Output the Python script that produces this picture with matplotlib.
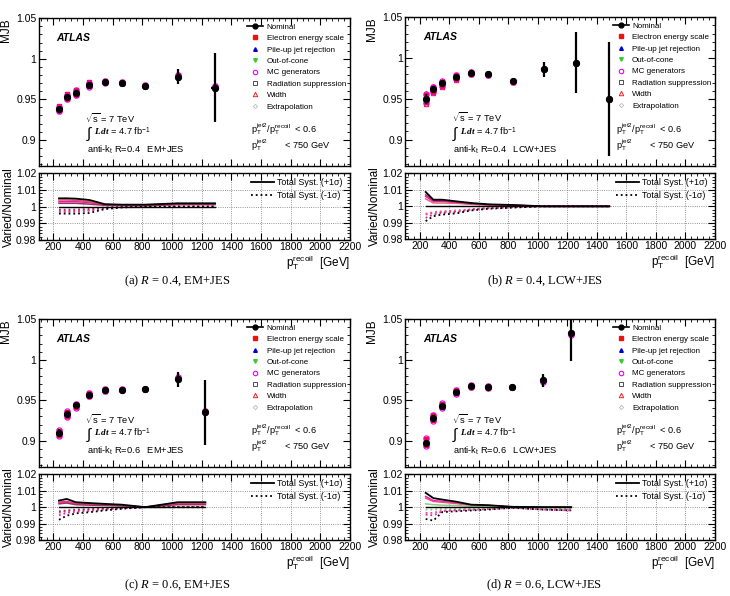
import matplotlib
matplotlib.use("Agg")
import matplotlib.pyplot as plt
import numpy as np
from matplotlib.lines import Line2D
from matplotlib.ticker import MultipleLocator, FuncFormatter

plt.rcParams["font.family"] = ["Liberation Sans", "DejaVu Sans"]
plt.rcParams["mathtext.fontset"] = "custom"
plt.rcParams["mathtext.rm"] = "Liberation Sans"
plt.rcParams["mathtext.it"] = "Liberation Serif:italic"
plt.rcParams["mathtext.bf"] = "Liberation Serif:italic:bold"

# ---- (a) R=0.4 EM+JES ----
A_PT = [238, 290, 351, 443, 546, 661, 820, 1038, 1290]
A_MJB = [0.938, 0.953, 0.958, 0.968, 0.9715, 0.970, 0.9665, 0.978, 0.9645]
A_ERR = [0.004, 0.003, 0.003, 0.003, 0.002, 0.002, 0.002, 0.009, 0.043]
A_XERR = [8, 8, 8, 8, 8, 8, 8, 10, 30]
A_UP = [1.0050, 1.0050, 1.0048, 1.0040, 1.0015, 1.0012, 1.0012, 1.0020, 1.0020]
A_DN = [0.9958, 0.9958, 0.9958, 0.9962, 0.9985, 0.9995, 1.0, 1.0, 1.0]
A_COMP_UP = [
    [1.0030, 1.0030, 1.0030, 1.0025, 1.0010, 1.0010, 1.0008, 1.0015, 1.0015],
    [1.0040, 1.0040, 1.0038, 1.0030, 1.0010, 1.0010, 1.0010, 1.0018, 1.0018],
    [1.0020, 1.0020, 1.0020, 1.0015, 1.0008, 1.0006, 1.0005, 1.0012, 1.0012],
]
A_COMP_DN = [
    [0.9968, 0.9968, 0.9970, 0.9975, 0.9990, 0.9998, 1.0, 1.0, 1.0],
    [0.9975, 0.9975, 0.9976, 0.9980, 0.9993, 0.9998, 1.0, 1.0, 1.0],
    [0.9982, 0.9982, 0.9983, 0.9986, 0.9995, 0.9999, 1.0, 1.0, 1.0],
]

# ---- (b) R=0.4 LCW+JES ----
B_PT = [240, 292, 353, 448, 549, 664, 831, 1039, 1260, 1484]
B_MJB = [0.950, 0.962, 0.969, 0.977, 0.982, 0.980, 0.9715, 0.986, 0.9945, 0.950]
B_ERR = [0.006, 0.004, 0.004, 0.003, 0.002, 0.002, 0.002, 0.009, 0.037, 0.070]
B_XERR = [8, 8, 8, 8, 8, 8, 8, 10, 15, 8]
B_UP = [1.0087, 1.0040, 1.0040, 1.0030, 1.0020, 1.0012, 1.0008, 1.0, 1.0, 1.0]
B_DN = [0.9910, 0.9940, 0.9950, 0.9957, 0.9975, 0.9985, 0.9992, 1.0, 1.0, 1.0]
B_COMP_UP = [
    [1.0060, 1.0030, 1.0030, 1.0022, 1.0015, 1.0010, 1.0006, 1.0, 1.0, 1.0],
    [1.0045, 1.0020, 1.0020, 1.0018, 1.0012, 1.0008, 1.0005, 1.0, 1.0, 1.0],
    [1.0070, 1.0035, 1.0033, 1.0025, 1.0016, 1.0010, 1.0006, 1.0, 1.0, 1.0],
]
B_COMP_DN = [
    [0.9950, 0.9960, 0.9965, 0.9970, 0.9980, 0.9988, 0.9995, 1.0, 1.0, 1.0],
    [0.9955, 0.9965, 0.9970, 0.9975, 0.9982, 0.9990, 0.9996, 1.0, 1.0, 1.0],
    [0.9930, 0.9950, 0.9960, 0.9965, 0.9980, 0.9988, 0.9994, 1.0, 1.0, 1.0],
]

# ---- (c) R=0.6 EM+JES ----
C_PT = [238, 290, 351, 443, 546, 661, 820, 1038, 1225]
C_MJB = [0.910, 0.933, 0.9437, 0.957, 0.9627, 0.963, 0.9636, 0.976, 0.935]
C_ERR = [0.005, 0.003, 0.003, 0.003, 0.002, 0.002, 0.002, 0.009, 0.040]
C_XERR = [8, 8, 8, 8, 8, 8, 8, 10, 8]
C_UP = [1.0040, 1.0050, 1.0030, 1.0025, 1.0020, 1.0015, 1.0000, 1.0030, 1.0030]
C_DN = [0.9923, 0.9948, 0.9962, 0.9969, 0.9980, 0.9990, 1.0, 1.0, 1.0]
C_COMP_UP = [
    [1.0030, 1.0035, 1.0022, 1.0020, 1.0015, 1.0010, 1.0, 1.0025, 1.0025],
    [1.0025, 1.0030, 1.0020, 1.0018, 1.0013, 1.0010, 1.0, 1.0020, 1.0020],
    [1.0020, 1.0025, 1.0015, 1.0012, 1.0010, 1.0008, 1.0, 1.0015, 1.0015],
]
C_COMP_DN = [
    [0.9950, 0.9965, 0.9972, 0.9977, 0.9985, 0.9992, 1.0, 1.0, 1.0],
    [0.9965, 0.9975, 0.9980, 0.9983, 0.9988, 0.9994, 1.0, 1.0, 1.0],
    [0.9975, 0.9980, 0.9985, 0.9988, 0.9992, 0.9996, 1.0, 1.0, 1.0],
]

# ---- (d) R=0.6 LCW+JES ----
D_PT = [240, 292, 353, 448, 549, 664, 827, 1037, 1226]
D_MJB = [0.8975, 0.9287, 0.943, 0.960, 0.9676, 0.9664, 0.9664, 0.9746, 1.0332]
D_ERR = [0.004, 0.003, 0.003, 0.003, 0.002, 0.002, 0.002, 0.008, 0.035]
D_XERR = [8, 8, 8, 8, 8, 8, 8, 10, 8]
D_UP = [1.0087, 1.0055, 1.0046, 1.0033, 1.0015, 1.0012, 1.0002, 1.0, 1.0]
D_DN = [0.9928, 0.9918, 0.9970, 0.9975, 0.9980, 0.9985, 0.9996, 0.9985, 0.9980]
D_COMP_UP = [
    [1.0065, 1.0040, 1.0035, 1.0025, 1.0012, 1.0010, 1.0002, 1.0, 1.0],
    [1.0055, 1.0035, 1.0030, 1.0022, 1.0010, 1.0008, 1.0001, 1.0, 1.0],
    [1.0020, 1.0015, 1.0012, 1.0010, 1.0005, 1.0003, 1.0, 1.0, 1.0],
]
D_COMP_DN = [
    [0.9955, 0.9950, 0.9975, 0.9980, 0.9983, 0.9988, 0.9996, 0.9985, 0.9980],
    [0.9965, 0.9965, 0.9980, 0.9984, 0.9987, 0.9990, 0.9997, 0.9990, 0.9988],
    [0.9985, 0.9985, 0.9990, 0.9992, 0.9994, 0.9996, 0.9999, 0.9995, 0.9993],
]

LEGEND_LABELS = ["Nominal", "Electron energy scale", "Pile-up jet rejection", "Out-of-cone",
                 "MC generators", "Radiation suppression", "Width", "Extrapolation"]

W, H = 730, 596


def rect(left, right, top, bottom):
    return [left / W, 1 - bottom / H, (right - left) / W, (bottom - top) / H]


def style_axis(ax):
    ax.tick_params(which="both", direction="in", top=True, right=True, labelsize=7.5)
    ax.tick_params(axis="x", pad=1.5)
    ax.tick_params(axis="y", pad=1.5)
    ax.tick_params(which="major", length=5, width=0.8)
    ax.tick_params(which="minor", length=2.5, width=0.6)
    for sp in ax.spines.values():
        sp.set_linewidth(1.0)
    ax.set_xlim(100, 2200)
    ax.xaxis.set_major_locator(MultipleLocator(200))
    ax.xaxis.set_minor_locator(MultipleLocator(40))


def draw_panel(fig, main_px, ratio_px, pt, mjb, err, xerr, up, dn, comp_up, comp_dn,
               radius, calib, comp_colors):
    pt = np.asarray(pt)
    mjb = np.asarray(mjb)
    ax = fig.add_axes(rect(*main_px))
    rax = fig.add_axes(rect(*ratio_px))
    style_axis(ax)
    style_axis(rax)

    # varied points (mostly hidden behind nominal)
    ms = 3.2
    ax.plot(pt, mjb, "D", ms=2.2, mfc="none", mec="#bbbbbb", mew=0.6, ls="none")
    ax.plot(pt, mjb, "s", ms=ms, mfc="none", mec="#333333", mew=0.6, ls="none")
    ax.plot(pt, mjb, "v", ms=ms, color="#33cc33", ls="none")
    ax.plot(pt, mjb, "^", ms=ms, color="#0000cc", ls="none")
    for vals in (comp_up[2], comp_dn[2]):
        ax.plot(pt, mjb * np.asarray(vals), "^", ms=ms, mfc="none", mec="#ee2222", mew=0.7, ls="none")
    for vals in (comp_up[1], comp_dn[1]):
        ax.plot(pt, mjb * np.asarray(vals), "s", ms=ms, color="#ee1111", ls="none")
    for vals in (comp_up[0], comp_dn[0]):
        ax.plot(pt, mjb * np.asarray(vals), "o", ms=ms + 0.6, mfc="none", mec="#ee00ee", mew=0.8, ls="none")
    ax.errorbar(pt, mjb, yerr=err, xerr=xerr, fmt="o", color="black", ms=4.2,
                elinewidth=1.6, capsize=0, zorder=5)

    ax.set_ylim(0.868, 1.05)
    ax.yaxis.set_major_locator(MultipleLocator(0.05))
    ax.yaxis.set_minor_locator(MultipleLocator(0.01))
    ax.yaxis.set_major_formatter(FuncFormatter(lambda v, p: f"{v:g}"))
    ax.set_xticklabels([])
    ax.set_ylabel("MJB", loc="top", fontsize=8.5, labelpad=3)

    handles = [
        Line2D([], [], color="black", marker="o", ms=3.5, lw=1.2),
        Line2D([], [], color="#ee1111", marker="s", ms=2.6, ls="none"),
        Line2D([], [], color="#0000cc", marker="^", ms=2.6, ls="none"),
        Line2D([], [], color="#33cc33", marker="v", ms=2.6, ls="none"),
        Line2D([], [], mec="#ee00ee", mfc="none", marker="o", ms=3.2, mew=0.8, ls="none"),
        Line2D([], [], mec="#333333", mfc="none", marker="s", ms=3.0, mew=0.6, ls="none"),
        Line2D([], [], mec="#ee2222", mfc="none", marker="^", ms=3.2, mew=0.7, ls="none"),
        Line2D([], [], mec="#bbbbbb", mfc="none", marker="D", ms=2.2, mew=0.6, ls="none"),
    ]
    ax.legend(handles, LEGEND_LABELS, loc="upper left", bbox_to_anchor=(0.67, 0.968),
              frameon=False, fontsize=5.8, handlelength=2.0, handletextpad=0.4,
              labelspacing=0.47, borderaxespad=0, borderpad=0)

    ax.text(0.058, 0.866, "ATLAS", transform=ax.transAxes, fontsize=7.5,
            fontweight="bold", fontstyle="italic", va="center")
    ax.text(0.15, 0.324, r"$\sqrt{\mathrm{s}}$ = 7 TeV", transform=ax.transAxes,
            fontsize=6.7, va="center")
    ax.text(0.152, 0.215, r"$\int$", transform=ax.transAxes, fontsize=11, va="center")
    ax.text(0.178, 0.228, r"$\mathbf{L\,dt}$ = 4.7 fb$^{\mathrm{-1}}$",
            transform=ax.transAxes, fontsize=6.7, va="center")
    ax.text(0.155, 0.107, r"anti-k$_{\mathrm{t}}$ R=" + radius + "   " + calib,
            transform=ax.transAxes, fontsize=6.7, va="center")
    ax.text(0.682, 0.249, r"$\mathrm{p_T^{jet2}/p_T^{recoil}}$  < 0.6",
            transform=ax.transAxes, fontsize=6.6, va="center")
    ax.text(0.682, 0.14, r"$\mathrm{p_T^{jet2}}$       < 750 GeV",
            transform=ax.transAxes, fontsize=6.6, va="center")

    # ratio panel
    rax.set_ylim(0.98, 1.02)
    rax.yaxis.set_major_locator(MultipleLocator(0.01))
    rax.yaxis.set_minor_locator(MultipleLocator(0.002))
    rax.yaxis.set_major_formatter(FuncFormatter(lambda v, p: f"{v:g}"))
    rax.grid(True, which="major", ls=":", color="0.45", lw=0.6)
    for vals, col in zip(comp_up, comp_colors):
        rax.plot(pt, vals, "-", color=col, lw=1.1)
    for vals, col in zip(comp_dn, comp_colors):
        rax.plot(pt, vals, ":", color=col, lw=1.3)
    rax.plot(pt, np.ones_like(pt, dtype=float), "-", color="black", lw=1.0)
    l1, = rax.plot(pt, up, "-", color="black", lw=1.3)
    l2, = rax.plot(pt, dn, ":", color="black", lw=1.3)
    rax.legend([l1, l2], ["Total Syst. (+1\u03c3)", "Total Syst. (-1\u03c3)"],
               loc="upper right", bbox_to_anchor=(0.975, 0.93), frameon=False,
               fontsize=6.4, handlelength=2.6, handletextpad=0.3, labelspacing=0.45,
               borderaxespad=0, borderpad=0)
    rax.set_ylabel("Varied/Nominal", fontsize=8.5, labelpad=1)
    rax.set_xlabel(r"$\mathrm{p_T^{recoil}}$  [GeV]", loc="right", fontsize=8.5, labelpad=1)
    return ax, rax


fig = plt.figure(figsize=(7.3, 5.96), dpi=100)

PINKS = ["#e020b0", "#f04a6a", "#a0306a"]
PINKS_B = ["#e020b0", "#f06080", "#c03080"]
PINKS_D = ["#e020b0", "#f04a8a", "#88cc88"]

draw_panel(fig, (38.5, 350, 18.3, 165.7), (38.5, 350, 173.3, 240),
           A_PT, A_MJB, A_ERR, A_XERR, A_UP, A_DN, A_COMP_UP, A_COMP_DN,
           "0.4", "EM+JES", PINKS)
draw_panel(fig, (405, 715, 17.3, 165.7), (405, 715, 173.3, 239.3),
           B_PT, B_MJB, B_ERR, B_XERR, B_UP, B_DN, B_COMP_UP, B_COMP_DN,
           "0.4", "LCW+JES", PINKS_B)
draw_panel(fig, (38.5, 350, 319.3, 466.7), (38.5, 350, 474.3, 540),
           C_PT, C_MJB, C_ERR, C_XERR, C_UP, C_DN, C_COMP_UP, C_COMP_DN,
           "0.6", "EM+JES", PINKS)
draw_panel(fig, (405, 715, 319.3, 466.7), (405, 715, 474.3, 540),
           D_PT, D_MJB, D_ERR, D_XERR, D_UP, D_DN, D_COMP_UP, D_COMP_DN,
           "0.6", "LCW+JES", PINKS_D)

captions = [("(a)", "0.4, EM+JES", 177.5, 281.7), ("(b)", "0.4, LCW+JES", 545.5, 281.7),
            ("(c)", "0.6, EM+JES", 176.7, 585), ("(d)", "0.6, LCW+JES", 544, 585)]
for tag, rest, cx, cy in captions:
    fig.text(cx / W, 1 - cy / H, tag + r" $R$ = " + rest, ha="center", va="center",
             fontsize=9, family=["Liberation Serif", "DejaVu Serif"])

fig.savefig("out.png", dpi=100)
